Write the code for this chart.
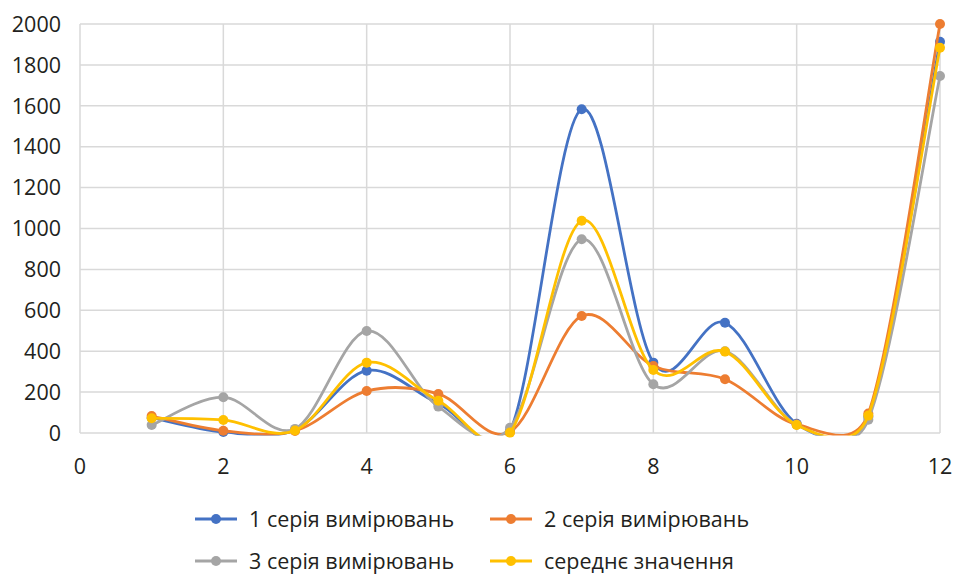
<!DOCTYPE html>
<html>
<head>
<meta charset="utf-8">
<script src="https://cdn.jsdelivr.net/npm/d3@7"></script>
<style>
    body { margin: 0; background: #fff; }
    text { font-family: "Open Sans", "Noto Sans", sans-serif; fill: #231f20; }
</style>
</head>
<body>
<div id="chart"></div>
<script>
const xValues = [1, 2, 3, 4, 5, 6, 7, 8, 9, 10, 11, 12];
const series1 = [75, 5, 15, 305, 145, 10, 1583, 344, 539, 45, 80, 1913];
const series2 = [83, 11, 10, 205, 191, 5, 572, 328, 263, 42, 95, 2000];
const series3 = [39, 175, 20, 499, 129, 26, 947, 238, 400, 40, 65, 1746];
const seriesAvg = [72, 64, 12, 344, 158, 2, 1038, 308, 398, 39, 85, 1884];
const seriesNames = ["1 серія вимірювань", "2 серія вимірювань", "3 серія вимірювань", "середнє значення"];
const seriesColors = ["#4472C4", "#ED7D31", "#A5A5A5", "#FFC000"];
const xTicks = [0, 2, 4, 6, 8, 10, 12];
const yTicks = [0, 200, 400, 600, 800, 1000, 1200, 1400, 1600, 1800, 2000];

const width = 953,
    height = 574,
    margin = { top: 24, right: 13, bottom: 141, left: 80 };

const allSeries = [series1, series2, series3, seriesAvg];

// spreadsheet-style smoothing: catmull-rom tangents, but the handles are
// capped relative to the segment length so short segments don't overshoot much
function SmoothCurve(context) {
    this._context = context;
}
SmoothCurve.prototype = {
    areaStart() {},
    areaEnd() {},
    lineStart() { this._pts = []; },
    point(x, y) { this._pts.push([+x, +y]); },
    lineEnd() {
        const p = this._pts, n = p.length, ctx = this._context;
        if (!n) return;
        const tan = p.map((d, i) => {
            const a = p[Math.max(i - 1, 0)], b = p[Math.min(i + 1, n - 1)];
            return [(b[0] - a[0]) / 6, (b[1] - a[1]) / 6];
        });
        const cap = (t, len) => {
            const l = Math.hypot(t[0], t[1]);
            const f = l > 0 ? Math.min(1, 0.55 * len / l) : 1;
            return [t[0] * f, t[1] * f];
        };
        ctx.moveTo(p[0][0], p[0][1]);
        for (let i = 0; i < n - 1; i++) {
            const len = Math.hypot(p[i + 1][0] - p[i][0], p[i + 1][1] - p[i][1]);
            const t1 = cap(tan[i], len), t2 = cap(tan[i + 1], len);
            ctx.bezierCurveTo(
                p[i][0] + t1[0], p[i][1] + t1[1],
                p[i + 1][0] - t2[0], p[i + 1][1] - t2[1],
                p[i + 1][0], p[i + 1][1]
            );
        }
    },
};
const smoothCurve = (context) => new SmoothCurve(context);

const svg = d3
    .select("#chart")
    .append("svg")
    .attr("width", width)
    .attr("height", height);

const x = d3
    .scaleLinear()
    .domain([0, 12])
    .range([margin.left, width - margin.right]);

const y = d3
    .scaleLinear()
    .domain([0, 2000])
    .range([height - margin.bottom, margin.top]);

// grid
svg.append("g")
    .selectAll("line")
    .data(yTicks)
    .join("line")
    .attr("x1", margin.left)
    .attr("x2", width - margin.right)
    .attr("y1", (d) => y(d))
    .attr("y2", (d) => y(d))
    .attr("stroke", "#d9d9d9")
    .attr("stroke-width", 1.5);

svg.append("g")
    .selectAll("line")
    .data(xTicks)
    .join("line")
    .attr("x1", (d) => x(d))
    .attr("x2", (d) => x(d))
    .attr("y1", y(0))
    .attr("y2", y(2000))
    .attr("stroke", "#d9d9d9")
    .attr("stroke-width", 1.5);

// tick labels
svg.append("g")
    .selectAll("text")
    .data(yTicks)
    .join("text")
    .attr("x", 61)
    .attr("y", (d) => y(d))
    .attr("dy", "0.36em")
    .attr("text-anchor", "end")
    .style("font-size", "21.5px")
    .text((d) => d);

svg.append("g")
    .selectAll("text")
    .data(xTicks)
    .join("text")
    .attr("x", (d) => x(d))
    .attr("y", 466)
    .attr("dy", "0.36em")
    .attr("text-anchor", "middle")
    .style("font-size", "21.5px")
    .text((d) => d);

// lines may dip under zero; clip them just below the axis like the original
svg.append("clipPath")
    .attr("id", "plot-clip")
    .append("rect")
    .attr("x", margin.left)
    .attr("y", margin.top - 10)
    .attr("width", width - margin.left - margin.right + 10)
    .attr("height", y(0) - margin.top + 12.5);

const line = d3
    .line()
    .x((d, i) => x(xValues[i]))
    .y((d) => y(d))
    .curve(smoothCurve);

const plot = svg.append("g");

allSeries.forEach((s, k) => {
    plot.append("path")
        .datum(s)
        .attr("d", line)
        .attr("fill", "none")
        .attr("stroke", seriesColors[k])
        .attr("stroke-width", 2.8)
        .attr("clip-path", "url(#plot-clip)");
    plot.append("g")
        .selectAll("circle")
        .data(s)
        .join("circle")
        .attr("cx", (d, i) => x(xValues[i]))
        .attr("cy", (d) => y(d))
        .attr("r", 5)
        .attr("fill", seriesColors[k]);
});

// legend
const legendPos = [
    [195, 519],
    [490, 519],
    [195, 561],
    [490, 561],
];
const legend = svg.append("g")
    .selectAll("g")
    .data(seriesNames)
    .join("g")
    .attr("transform", (d, i) => `translate(${legendPos[i][0]},${legendPos[i][1]})`);

legend.append("line")
    .attr("x1", 0)
    .attr("x2", 42)
    .attr("stroke", (d, i) => seriesColors[i])
    .attr("stroke-width", 2.8);

legend.append("circle")
    .attr("cx", 21)
    .attr("r", 5)
    .attr("fill", (d, i) => seriesColors[i]);

legend.append("text")
    .attr("x", 54)
    .attr("dy", "0.36em")
    .style("font-size", "21.5px")
    .text((d) => d);
</script>
</body>
</html>
